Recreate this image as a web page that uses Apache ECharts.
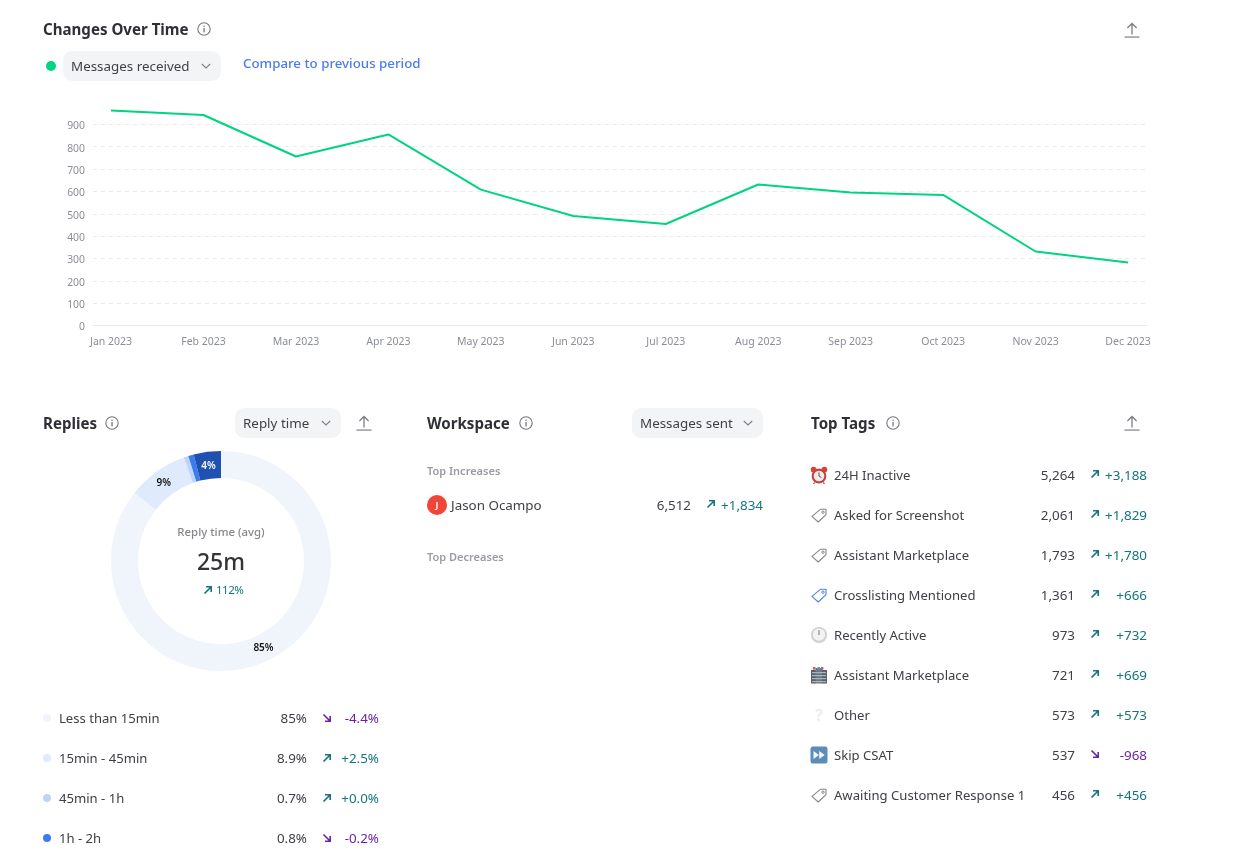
<!DOCTYPE html>
<html><head><meta charset="utf-8">
<script src="https://cdn.jsdelivr.net/npm/echarts@6/dist/echarts.min.js"></script>
<style>
html,body{margin:0;padding:0;width:1247px;height:855px;overflow:hidden;background:#fff;font-family:"Noto Sans",sans-serif;color:#3f4046}
#chart{position:absolute;left:0;top:0;width:1247px;height:855px}
#ui{position:absolute;left:0;top:0;width:1247px;height:855px;pointer-events:none}
.t{position:absolute;white-space:nowrap;line-height:20px;height:20px;font-size:13.4px}
.n{font-size:13.1px}
.h{font-size:15.1px;font-weight:700;color:#2f3036}
.g{font-size:11px;font-weight:600;color:#9a9ca3}
.dd{position:absolute;background:#f3f4f6;border-radius:9px;height:30px}
.up{color:#14757c}.down{color:#6b21a8}
svg{position:absolute;overflow:visible}
</style></head><body>
<div id="chart"></div><div id="ui"></div>
<script>
const months=["Jan 2023","Feb 2023","Mar 2023","Apr 2023","May 2023","Jun 2023","Jul 2023","Aug 2023","Sep 2023","Oct 2023","Nov 2023","Dec 2023"];
const messagesReceived=[962,942,756,855,608,490,454,631,595,584,331,282];
const replyBuckets=["Less than 15min","15min - 45min","45min - 1h","1h - 2h","More than 2h"];
const replyShares=[85.6,8.9,0.7,0.8,4.0];
const replyLabels=["85%","9%","","","4%"];
const replyColors=["#f0f5fc","#dfeafd","#bfd4fa","#3b7cf0","#2050b0"];
const replyPct=["85%","8.9%","0.7%","0.8%"];
const replyDelta=["-4.4%","+2.5%","+0.0%","-0.2%"];
const tagNames=["24H Inactive","Asked for Screenshot","Assistant Marketplace","Crosslisting Mentioned","Recently Active","Assistant Marketplace","Other","Skip CSAT","Awaiting Customer Response 1"];
const tagIcons=["alarm","tag","tag","tagBlue","clock","building","question","skip","tag"];
const tagValues=["5,264","2,061","1,793","1,361","973","721","573","537","456"];
const tagDeltas=["+3,188","+1,829","+1,780","+666","+732","+669","+573","-968","+456"];
const workspaceNames=["Jason Ocampo"];
const workspaceValues=["6,512"];
const workspaceDeltas=["+1,834"];

const chart=echarts.init(document.getElementById('chart'),null,{renderer:'canvas'});
const axisFont='"Noto Sans",sans-serif';
const pieLabelNudge=[[-1,-2],[1,3],[0,0],[0,0],[0,4]];
chart.setOption({
  animation:false,
  grid:{left:93,right:100,top:102,height:223.5,containLabel:false},
  xAxis:{type:'value',min:-0.195,max:11.205,
    axisLine:{show:true,onZero:false,lineStyle:{color:'#e6e8ec',width:1}},
    axisTick:{show:false},splitLine:{show:false},
    axisLabel:{customValues:months.map((m,i)=>i),formatter:v=>months[v],color:'#8b8e99',fontSize:10.5,fontFamily:axisFont,margin:11}},
  yAxis:{type:'value',min:0,max:1000,interval:100,
    axisLine:{show:false},axisTick:{show:false},
    splitLine:{showMaxLine:false,showMinLine:false,lineStyle:{color:'#e9eaee',type:[4,4],width:1}},
    axisLabel:{showMaxLabel:false,color:'#8b8e99',fontSize:10.4,fontFamily:axisFont,margin:8,verticalAlign:'top',lineHeight:4}},
  series:[
   {type:'line',data:messagesReceived.map((v,i)=>[i,v]),symbol:'none',smooth:false,lineStyle:{color:'#00d47e',width:2},z:3},
   {type:'pie',center:[221,561],radius:[83,110],startAngle:90,clockwise:true,silent:true,
    data:replyBuckets.map((n,i)=>({name:n,value:replyShares[i],itemStyle:{color:replyColors[i]},
      label:{show:!!replyLabels[i],formatter:replyLabels[i],color:i===4?'#fff':'#111',offset:pieLabelNudge[i]}})),
    label:{position:'inside',fontSize:10,fontWeight:600,fontFamily:axisFont},labelLine:{show:false}}
  ]
});

const ui=document.getElementById('ui');
function el(cls,html,l,cy,right){const d=document.createElement('div');d.className='t '+cls;d.innerHTML=html;
  d.style.top=(cy-10)+'px'; if(right!==undefined){d.style.right=(1247-right)+'px';} else d.style.left=l+'px'; ui.appendChild(d);return d;}
function center(cls,html,cx,cy,size,color,weight){const d=el(cls,html,0,cy);d.style.left=(cx-150)+'px';d.style.width='300px';d.style.textAlign='center';
  if(size){d.style.fontSize=size+'px';d.style.lineHeight='20px'} if(color)d.style.color=color; if(weight)d.style.fontWeight=weight; return d;}
function svg(x,y,w,h,inner){const n=document.createElementNS('http://www.w3.org/2000/svg','svg');n.setAttribute('width',w);n.setAttribute('height',h);n.setAttribute('viewBox',`0 0 ${w} ${h}`);n.style.left=x+'px';n.style.top=y+'px';n.innerHTML=inner;ui.appendChild(n);}
function info(cx,cy){svg(cx-7,cy-7,14,14,`<circle cx="7" cy="7" r="6.2" fill="none" stroke="#77787e" stroke-width="1.1"/><rect x="6.4" y="6" width="1.3" height="4.4" fill="#77787e"/><rect x="6.4" y="3.6" width="1.3" height="1.3" fill="#77787e"/>`);}
function exportIcon(cx,cy){svg(cx-8,cy-9,16,18,`<path d="M8 2.5V13.5M3.4 7L8 2.5L12.6 7" fill="none" stroke="#7d7e84" stroke-width="1.3"/><rect x="0.5" y="15.4" width="15" height="1.3" fill="#8a8b90"/>`);}
function chevron(cx,cy){svg(cx-6,cy-4,12,8,`<path d="M1.8 2L6 6L10.2 2" fill="none" stroke="#7f8188" stroke-width="1.1"/>`);}
function dropdown(l,r,cy,label,chev){const d=document.createElement('div');d.className='dd';d.style.left=l+'px';d.style.width=(r-l)+'px';d.style.top=(cy-15)+'px';ui.appendChild(d);el('',label,l+8,cy);chevron(chev,cy);}
function arrow(cx,cy,delta){const up=delta[0]==='+';const c=up?'#14757c':'#6b21a8';
  svg(cx-5,cy-5,10,10,up?`<path d="M1.5 8.5L8 2M3 1.8H8.2V7" fill="none" stroke="${c}" stroke-width="1.6"/>`:`<path d="M1.5 1.5L8 8M8.2 3V8.2H3" fill="none" stroke="${c}" stroke-width="1.6"/>`);}
function deltaCell(ax,right,cy,delta,ay){arrow(ax,ay===undefined?cy:ay,delta);el(delta[0]==='+'?'up':'down',delta,0,cy,right);}
function icon(kind,x,cy){const y=cy-9;
  const tag=c=>`<path d="M16 3.2L16 8.6L8.2 16L2 10.4L10.6 3.2Z" fill="#fff" stroke="${c}" stroke-width="1.1" stroke-linejoin="round"/><circle cx="13" cy="6.2" r="1.2" fill="none" stroke="${c}" stroke-width="1"/>`;
  const m={
   alarm:`<circle cx="3.6" cy="3.6" r="2.9" fill="#d9413c"/><circle cx="14.4" cy="3.6" r="2.9" fill="#d9413c"/><circle cx="9" cy="10" r="7.4" fill="#c9423e"/><circle cx="9" cy="10" r="5.3" fill="#ececec"/><path d="M9 6.4V10L11.4 11.6" stroke="#555" stroke-width="1" fill="none"/><path d="M4.6 16.5L3.6 18M13.4 16.5L14.4 18" stroke="#8a3a38" stroke-width="1.2"/>`,
   tag:tag('#85868b'),tagBlue:tag('#4c84e8'),
   clock:`<circle cx="9" cy="9" r="8" fill="#cfcfcf"/><circle cx="9" cy="8.6" r="6.2" fill="#f3f3f3"/><path d="M9 4.2V9" stroke="#777" stroke-width="1"/>`,
   building:`<rect x="1" y="4" width="5" height="13.5" fill="#56616b"/><rect x="5.5" y="2" width="7" height="15.5" fill="#6d7882"/><rect x="12" y="4" width="5" height="13.5" fill="#56616b"/><rect x="3" y="1" width="2.4" height="2.6" fill="#d9534f"/><rect x="7.6" y="1" width="2.2" height="2.6" fill="#5b8fd9"/><rect x="11" y="1" width="2.4" height="2.6" fill="#d9534f"/>`+[6,9,12,15].map(v=>`<rect x="2" y="${v}" width="14" height="1.2" fill="#aeb6bd"/>`).join(''),
   question:`<text x="9" y="15" text-anchor="middle" font-size="16" font-weight="700" font-family="Noto Sans" fill="#ececec">?</text>`,
   skip:`<rect x="0.5" y="0.5" width="17" height="17" rx="2.5" fill="#5b8cba"/><path d="M3.5 5L9 9L3.5 13ZM9.2 5L14.7 9L9.2 13Z" fill="#f4f6f8"/>`};
  svg(x,y,18,18,m[kind]);}

/* header: changes over time */
el('h','Changes Over Time',43,29);info(204,29);exportIcon(1132,30);
svg(46,61,10,10,`<circle cx="5" cy="5" r="5" fill="#00d47e"/>`);
dropdown(63,221,66,'Messages received',206);
el('',"Compare to previous period",243,63).style.cssText+='color:#4b7bec;font-weight:500;font-size:13.3px';

/* replies */
el('h','Replies',43,423);info(112,423);dropdown(235,341,423,'Reply time',326);exportIcon(364,423);
center('','Reply time (avg)',221,532,11.4,'#86878c',500);
center('','25m',221,560.5,23,'#333438',500);
svg(203,585,10,10,`<path d="M1.5 8.5L8 2M3 1.8H8.2V7" fill="none" stroke="#14757c" stroke-width="1.6"/>`);
el('up','112%',216,590).style.cssText+='font-size:11.5px;letter-spacing:-0.5px';
replyPct.forEach((p,i)=>{const y=718+40*i;
  svg(43,y-4,8,8,`<circle cx="4" cy="4" r="4" fill="${replyColors[i]}"/>`);
  el('n',replyBuckets[i],59,y);el('',p,0,y,307);deltaCell(327,379,y,replyDelta[i]);});

/* workspace */
el('h','Workspace',427,423);info(526,423);dropdown(632,763,423,'Messages sent',748);
el('g','Top Increases',427,471);
workspaceNames.forEach((n,i)=>{const y=505;
  svg(427,y-10,20,20,`<circle cx="10" cy="10" r="10" fill="#ef4638"/><text x="10" y="13.3" text-anchor="middle" font-size="9.5" font-weight="600" font-family="Noto Sans" fill="#fff">${n[0]}</text>`);
  el('',n,451,y);el('',workspaceValues[i],0,y,691);deltaCell(711,763,y,workspaceDeltas[i],y-1);});
el('g','Top Decreases',427,557);

/* tags */
el('h','Top Tags',811,423);info(893,423);exportIcon(1132,423);
tagNames.forEach((n,i)=>{const y=475+40*i;
  icon(tagIcons[i],810,y);el('n',n,834,y);el('',tagValues[i],0,y,1075);deltaCell(1095,1147,y,tagDeltas[i],y-1);});
</script>
</body></html>
